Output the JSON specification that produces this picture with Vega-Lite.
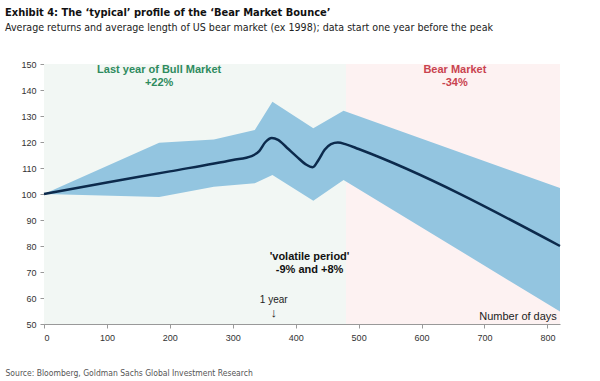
{
  "$schema": "https://vega.github.io/schema/vega-lite/v6.json",
  "autosize": "none",
  "width": 516,
  "height": 260,
  "padding": {"left": 44, "top": 64, "right": 40, "bottom": 57},
  "background": "white",
  "config": {"view": {"stroke": null}, "font": "Liberation Sans"},
  "title": {
    "text": "Exhibit 4: The ‘typical’ profile of the ‘Bear Market Bounce’",
    "subtitle": "Average returns and average length of US bear market (ex 1998); data start one year before the peak",
    "anchor": "start",
    "frame": "group",
    "dx": -39,
    "offset": 26,
    "font": "DejaVu Sans Condensed, Liberation Sans, sans-serif",
    "fontSize": 11,
    "fontWeight": "bold",
    "color": "#111",
    "subtitleFont": "DejaVu Sans Condensed, Liberation Sans, sans-serif",
    "subtitleFontSize": 10.6,
    "subtitleColor": "#222",
    "subtitlePadding": 5
  },
  "resolve": {"scale": {"color": "independent"}},
  "datasets": {
    "regions": [
      {"start": 0, "end": 480, "region": "bull"},
      {"start": 480, "end": 820, "region": "bear"}
    ],
    "band": [
      {"day": 0, "upper": 100, "lower": 100},
      {"day": 183, "upper": 119.7, "lower": 98.8},
      {"day": 270, "upper": 121, "lower": 102.8},
      {"day": 335, "upper": 124.6, "lower": 104.1},
      {"day": 363, "upper": 135.5, "lower": 107.3},
      {"day": 428, "upper": 125.3, "lower": 97.4},
      {"day": 476, "upper": 132, "lower": 105.4},
      {"day": 820, "upper": 102.3, "lower": 54.8}
    ],
    "mean": [
      {"day": 0, "value": 100},
      {"day": 100, "value": 104.4},
      {"day": 200, "value": 108.7},
      {"day": 300, "value": 113.1},
      {"day": 330, "value": 114.6},
      {"day": 342, "value": 116.5},
      {"day": 352, "value": 120},
      {"day": 362, "value": 121.5},
      {"day": 372, "value": 120.8},
      {"day": 386, "value": 117.8},
      {"day": 402, "value": 114.3},
      {"day": 416, "value": 111.4},
      {"day": 427, "value": 110.3},
      {"day": 436, "value": 113},
      {"day": 446, "value": 117},
      {"day": 456, "value": 119.2},
      {"day": 467, "value": 119.8},
      {"day": 480, "value": 119.1},
      {"day": 500, "value": 117.3},
      {"day": 820, "value": 80}
    ],
    "labels": [
      {"day": 183, "value": 147.6, "text": "Last year of Bull Market", "kind": "bull"},
      {"day": 183, "value": 142.6, "text": "+22%", "kind": "bull"},
      {"day": 653, "value": 147.6, "text": "Bear Market", "kind": "bear"},
      {"day": 653, "value": 142.6, "text": "-34%", "kind": "bear"},
      {"day": 422, "value": 75.8, "text": "'volatile period'", "kind": "vol"},
      {"day": 422, "value": 70.6, "text": "-9% and +8%", "kind": "vol"}
    ]
  },
  "encoding": {
    "x": {
      "type": "quantitative",
      "scale": {"domain": [0, 820], "nice": false},
      "axis": {
        "values": [0, 100, 200, 300, 400, 500, 600, 700, 800],
        "grid": false,
        "labelFontSize": 9,
        "labelColor": "#333",
        "labelPadding": 5,
        "tickSize": 4,
        "tickColor": "#999",
        "domainColor": "#999",
        "title": "Source: Bloomberg, Goldman Sachs Global Investment Research",
        "titleFont": "DejaVu Sans Condensed, Liberation Sans, sans-serif",
        "titleFontSize": 8.5,
        "titleFontWeight": "normal",
        "titleColor": "#555",
        "titleAnchor": "start",
        "titleAlign": "left",
        "titleBaseline": "middle",
        "titleX": -39,
        "titleY": 48
      }
    },
    "y": {
      "type": "quantitative",
      "scale": {"domain": [50, 150], "nice": false, "zero": false},
      "axis": {
        "values": [50, 60, 70, 80, 90, 100, 110, 120, 130, 140, 150],
        "grid": false,
        "labelFontSize": 9,
        "labelColor": "#333",
        "labelPadding": 4,
        "tickSize": 4,
        "tickColor": "#999",
        "domainColor": "#999",
        "title": null
      }
    }
  },
  "layer": [
    {
      "data": {"name": "regions"},
      "mark": {"type": "rect", "opacity": 1},
      "encoding": {
        "x": {"field": "start", "type": "quantitative"},
        "x2": {"field": "end"},
        "color": {
          "field": "region",
          "type": "nominal",
          "scale": {"domain": ["bull", "bear"], "range": ["#f2f7f4", "#fdf2f2"]},
          "legend": null
        }
      }
    },
    {
      "data": {"name": "band"},
      "mark": {"type": "area", "color": "#93c5e0", "opacity": 1},
      "encoding": {
        "x": {"field": "day", "type": "quantitative"},
        "y": {"field": "upper", "type": "quantitative"},
        "y2": {"field": "lower"}
      }
    },
    {
      "data": {"name": "mean"},
      "mark": {"type": "line", "color": "#0c2a4c", "strokeWidth": 2.5, "interpolate": "monotone"},
      "encoding": {
        "x": {"field": "day", "type": "quantitative"},
        "y": {"field": "value", "type": "quantitative"}
      }
    },
    {
      "data": {"name": "labels"},
      "mark": {"type": "text", "fontWeight": "bold", "fontSize": 11, "align": "center", "baseline": "middle"},
      "encoding": {
        "x": {"field": "day", "type": "quantitative"},
        "y": {"field": "value", "type": "quantitative"},
        "text": {"field": "text"},
        "color": {
          "field": "kind",
          "type": "nominal",
          "scale": {"domain": ["bull", "bear", "vol"], "range": ["#2e8b5e", "#c9434f", "#111111"]},
          "legend": null
        }
      }
    },
    {
      "data": {"values": [{"day": 365, "value": 59.3, "text": "1 year", "size": "small"}, {"day": 365, "value": 54.3, "text": "↓", "size": "big"}]},
      "mark": {"type": "text", "color": "#222", "align": "center", "baseline": "middle"},
      "encoding": {
        "x": {"field": "day", "type": "quantitative"},
        "y": {"field": "value", "type": "quantitative"},
        "text": {"field": "text"},
        "size": {"field": "size", "type": "nominal", "scale": {"domain": ["small", "big"], "range": [10, 13]}, "legend": null}
      }
    },
    {
      "data": {"values": [{"day": 815, "value": 52.8, "text": "Number of days"}]},
      "mark": {"type": "text", "fontSize": 11, "color": "#222", "align": "right", "baseline": "middle"},
      "encoding": {
        "x": {"field": "day", "type": "quantitative"},
        "y": {"field": "value", "type": "quantitative"},
        "text": {"field": "text"}
      }
    }
  ]
}
